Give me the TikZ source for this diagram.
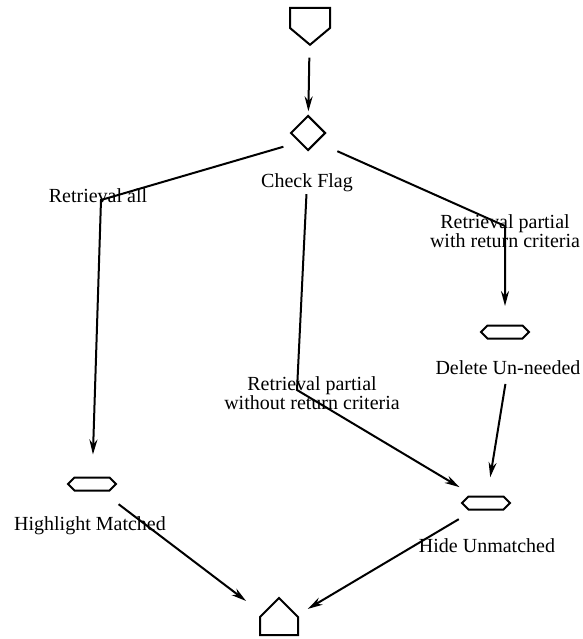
\documentclass[tikz,border=0pt]{standalone}
\usepackage{fontspec}
\setmainfont{Liberation Serif}
\usetikzlibrary{shapes.geometric,shapes.symbols,arrows.meta}

\begin{document}
\begin{tikzpicture}[x=1bp, y=-1bp, line width=2bp,
        >={Stealth[length=15bp,width=8bp]},
        lbl/.style={inner sep=1bp, align=center, font=\fontsize{20bp}{19bp}\selectfont},
        proc/.style={draw, signal, signal to=east and west, inner sep=0, minimum width=48bp, minimum height=13bp}]
    \useasboundingbox (0,0) rectangle (583,639);

    % start, decision and end
    \node (start) [draw, signal, signal to=south, signal pointer angle=100, inner sep=0, minimum width=40bp, minimum height=20bp] at (310,18) {};
    \node (flag) [draw, diamond, inner sep=0, minimum size=35bp] at (308,133) {};
    \node (flaglbl) [lbl] at (307,183) {Check Flag};
    \node (end) [draw, signal, signal to=north, inner sep=0, minimum width=38bp, minimum height=18bp] at (279,626) {};

    % the three retrieval cases
    \node (alllbl) [lbl] at (98,196) {Retrieval all};
    \node (wrlbl) [lbl] at (505,231) {Retrieval partial\\with return criteria};
    \node (wolbl) [lbl] at (312,393) {Retrieval partial\\without return criteria};

    % processing steps
    \node (hl) [proc] at (92,484) {};
    \node (hllbl) [lbl] at (90,526) {Highlight Matched};
    \node (del) [proc] at (505,332) {};
    \node (dellbl) [lbl] at (508,368) {Delete Un-needed};
    \node (hide) [proc] at (486,503) {};
    \node (hidelbl) [lbl] at (487,546) {Hide Unmatched};

    \coordinate (allbend) at (101,200);
    \coordinate (wobend) at (297,390);
    \coordinate (wrbend) at (505,226);

    \draw[->, shorten <=12bp, shorten >=3.5bp] (start) -- (flag);
    \draw[->, shorten <=16bp, shorten >=22bp] (flag.south west) -- (allbend) -- (hl);
    \draw[->, shorten >=17bp] (flaglbl) -- (wobend) -- (hide);
    \draw[->, shorten <=22bp, shorten >=18.5bp] (flag.south east) -- (wrbend) -- (del);
    \draw[->, shorten <=7bp, shorten >=18.5bp] (dellbl) -- (hide);
    \draw[->, shorten <=21bp, shorten >=20bp] (hl) -- (end);
    \draw[->, shorten <=17bp, shorten >=12bp] (hide) -- (end);
\end{tikzpicture}
\end{document}
